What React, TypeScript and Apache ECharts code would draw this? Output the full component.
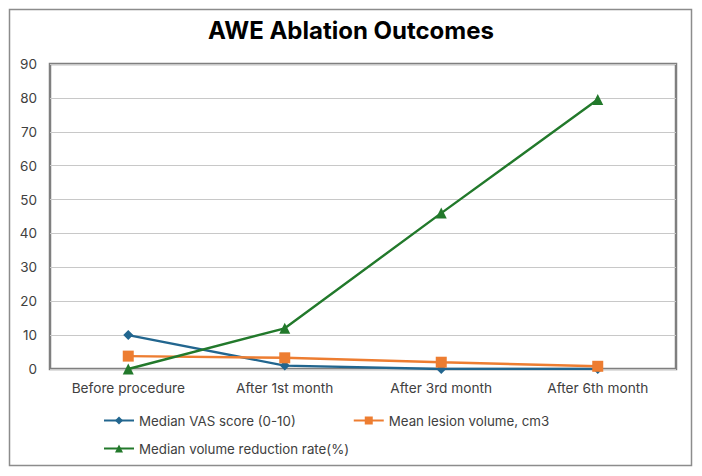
import React, { useEffect, useRef } from "react";
import * as echarts from "echarts";

const categories = ["Before procedure", "After 1st month", "After 3rd month", "After 6th month"];
const vasScore = [10, 1, 0, 0];
const lesionVolume = [3.8, 3.3, 2.0, 0.8];
const reductionRate = [0, 12, 46, 79.5];
const seriesNames = [
  "Median VAS score (0-10)",
  "Mean lesion volume, cm3",
  "Median volume reduction rate(%)",
];

const FONT = "Inter";

export default function App() {
  const ref = useRef<HTMLDivElement>(null);

  useEffect(() => {
    if (!ref.current) return;
    const chart = echarts.init(ref.current, null, { renderer: "svg" });
    const legendText = { fontFamily: FONT, fontSize: 13.3, color: "#404040" };
    chart.setOption({
      animation: false,
      backgroundColor: "#ffffff",
      textStyle: { fontFamily: FONT },
      title: {
        text: "AWE Ablation Outcomes",
        left: "center",
        top: 13,
        textStyle: { fontFamily: FONT, fontSize: 24, fontWeight: "bold", color: "#000000" },
      },
      graphic: [
        {
          type: "rect",
          shape: { x: 9.5, y: 9.5, width: 682, height: 456 },
          style: { fill: "none", stroke: "#8c8c8c", lineWidth: 1.5 },
          silent: true,
          z: -1,
        },
      ],
      grid: {
        left: 50,
        top: 64,
        width: 626,
        height: 305,
        show: true,
        borderColor: "#7f7f7f",
        borderWidth: 2.5,
        containLabel: false,
      },
      legend: [
        {
          data: [seriesNames[0], seriesNames[1]],
          left: 103,
          top: 414,
          padding: 0,
          itemWidth: 30,
          itemHeight: 10,
          itemGap: 57,
          textStyle: legendText,
        },
        {
          data: [seriesNames[2]],
          left: 103,
          top: 442,
          padding: 0,
          itemWidth: 30,
          itemHeight: 10,
          textStyle: legendText,
        },
      ],
      xAxis: {
        type: "category",
        data: categories,
        boundaryGap: true,
        axisLine: { show: false },
        axisTick: { show: false },
        axisLabel: { fontFamily: FONT, fontSize: 13.7, color: "#404040", margin: 12 },
      },
      yAxis: {
        type: "value",
        min: 0,
        max: 90,
        interval: 10,
        axisLine: { show: false },
        axisTick: { show: false },
        axisLabel: { fontFamily: FONT, fontSize: 13.5, color: "#404040", margin: 13 },
        splitLine: { lineStyle: { color: "#c8c8c8", width: 1 } },
      },
      series: [
        {
          name: seriesNames[0],
          type: "line",
          data: vasScore,
          symbol: "diamond",
          symbolSize: 10,
          lineStyle: { color: "#22668f", width: 2.4 },
          itemStyle: { color: "#22668f" },
          z: 3,
        },
        {
          name: seriesNames[1],
          type: "line",
          data: lesionVolume,
          symbol: "rect",
          symbolSize: 11,
          lineStyle: { color: "#ed7d31", width: 2.4 },
          itemStyle: { color: "#ed7d31" },
          z: 4,
        },
        {
          name: seriesNames[2],
          type: "line",
          data: reductionRate,
          symbol: "triangle",
          symbolSize: 11,
          lineStyle: { color: "#22792b", width: 2.4 },
          itemStyle: { color: "#22792b" },
          z: 5,
        },
      ],
    });
    return () => chart.dispose();
  }, []);

  return <div ref={ref} style={{ width: 702, height: 476, position: "absolute", left: 0, top: 0 }} />;
}
